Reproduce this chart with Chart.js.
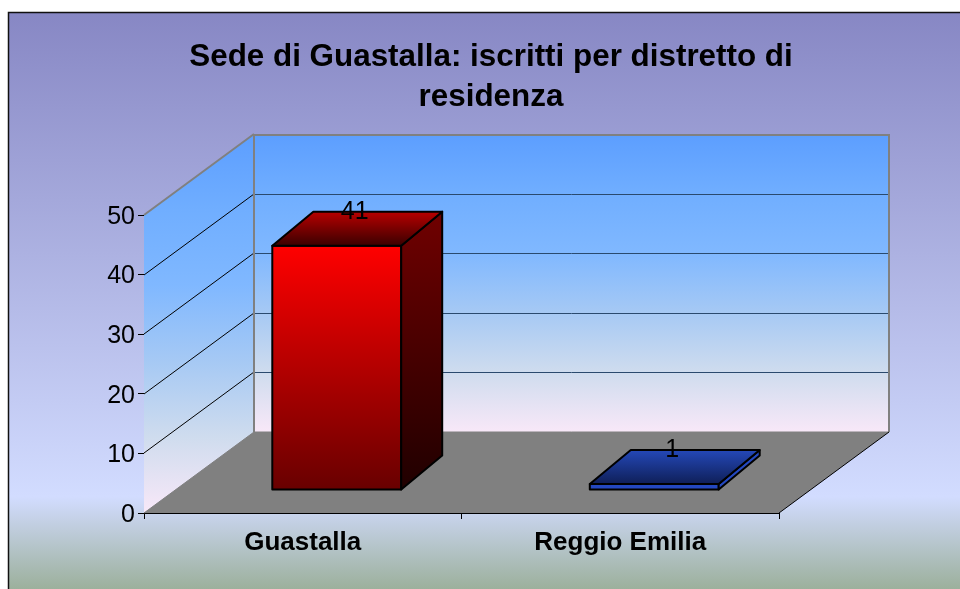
<!DOCTYPE html>
<html>
<head>
<meta charset="utf-8">
<style>
  html, body { margin: 0; padding: 0; width: 960px; height: 589px; overflow: hidden; background: #fff; }
  canvas { display: block; }
</style>
<script src="https://cdn.jsdelivr.net/npm/chart.js@4"></script>
</head>
<body>
<canvas id="chart" width="982" height="589"></canvas>
<script>
const titleLines = ['Sede di Guastalla: iscritti per distretto di', 'residenza'];
const categories = ['Guastalla', 'Reggio Emilia'];
const iscritti = [41, 1];
const yTicks = [0, 10, 20, 30, 40, 50];

// 3D look: wall depth and how far into the floor the bars stand
const wallDepth = {x: 110, y: -81};
const barShift = {x: 34, y: -23};
const barDepth = {x: 41, y: -34};
const frame = {x: 8, y: 12};

const barFaces = [
  {front: ['#ff0000', '#680000'], top: ['#b80000', '#3a0000'], side: ['#700000', '#200000']},
  {front: ['#2448c0', '#2448c0'], top: ['#2448b8', '#0f1f58'], side: ['#2448c0', '#2448c0']}
];

function vGrad(ctx, y0, y1, c0, c1) {
  const g = ctx.createLinearGradient(0, y0, 0, y1);
  g.addColorStop(0, c0);
  g.addColorStop(1, c1);
  return g;
}

function addWallStops(g) {
  g.addColorStop(0, '#5c9eff');
  g.addColorStop(0.2, '#70aeff');
  g.addColorStop(0.4, '#80b8ff');
  g.addColorStop(0.6, '#a6c9f4');
  g.addColorStop(0.8, '#cfdcee');
  g.addColorStop(1, '#f8e8f8');
  return g;
}

function poly(ctx, pts, fill, stroke, lw) {
  ctx.beginPath();
  pts.forEach((p, i) => i ? ctx.lineTo(p[0], p[1]) : ctx.moveTo(p[0], p[1]));
  ctx.closePath();
  if (fill) { ctx.fillStyle = fill; ctx.fill(); }
  if (stroke) { ctx.strokeStyle = stroke; ctx.lineWidth = lw; ctx.stroke(); }
}

function line(ctx, x0, y0, x1, y1, color, lw) {
  ctx.beginPath();
  ctx.moveTo(x0, y0);
  ctx.lineTo(x1, y1);
  ctx.strokeStyle = color;
  ctx.lineWidth = lw;
  ctx.stroke();
}

const scene3d = {
  id: 'scene3d',
  beforeDraw(chart) {
    const ctx = chart.ctx;
    const W = chart.width, H = chart.height;
    // page background with the black frame
    const bg = ctx.createLinearGradient(0, frame.y, 0, H);
    bg.addColorStop(0, '#8787c4');
    bg.addColorStop(0.84, '#d2dcff');
    bg.addColorStop(1, '#9cb09c');
    ctx.save();
    ctx.fillStyle = bg;
    ctx.fillRect(frame.x, frame.y, W - frame.x, H - frame.y);
    ctx.strokeStyle = '#111';
    ctx.lineWidth = 1.5;
    ctx.strokeRect(frame.x + 0.5, frame.y + 0.5, W, H);
    ctx.restore();
  },
  beforeDatasetsDraw(chart) {
    const ctx = chart.ctx;
    const a = chart.chartArea;
    const y = chart.scales.y;
    const dx = wallDepth.x, dy = wallDepth.y;
    ctx.save();
    // back wall
    ctx.fillStyle = addWallStops(ctx.createLinearGradient(0, a.top + dy, 0, a.bottom + dy));
    ctx.fillRect(a.left + dx, a.top + dy, a.right - a.left, a.bottom - a.top);
    // side wall
    const side = addWallStops(ctx.createLinearGradient(0, a.top + dy, 0, a.bottom));
    poly(ctx, [[a.left, a.top], [a.left + dx, a.top + dy], [a.left + dx, a.bottom + dy], [a.left, a.bottom]], side);
    // floor
    poly(ctx, [[a.left, a.bottom], [a.left + dx, a.bottom + dy], [a.right + dx, a.bottom + dy], [a.right, a.bottom]], '#808080');
    // grid lines
    yTicks.forEach(t => {
      if (t === 0 || t === 50) return;
      const py = Math.round(y.getPixelForValue(t));
      line(ctx, a.left, py, a.left + dx, py + dy, '#000', 1);
      line(ctx, a.left + dx, py + dy + 0.5, a.right + dx, py + dy + 0.5, '#2a4a6e', 1);
    });
    // wall outline
    ctx.lineJoin = 'round';
    line(ctx, a.left, a.top, a.left + dx, a.top + dy, '#808080', 2);
    line(ctx, a.left + dx, a.top + dy + 1, a.right + dx, a.top + dy + 1, '#808080', 2);
    line(ctx, a.left + dx, a.top + dy, a.left + dx, a.bottom + dy, '#808080', 2);
    line(ctx, a.right + dx, a.top + dy, a.right + dx, a.bottom + dy, '#808080', 2);
    line(ctx, a.left + dx, a.bottom + dy, a.right + dx, a.bottom + dy, '#808080', 1);
    line(ctx, a.left, a.bottom, a.left + dx, a.bottom + dy, '#808080', 1);
    line(ctx, a.right, a.bottom, a.right + dx, a.bottom + dy, '#000', 1);
    ctx.restore();
  },
  afterDatasetsDraw(chart) {
    const ctx = chart.ctx;
    const meta = chart.getDatasetMeta(0);
    ctx.save();
    meta.data.forEach((bar, i) => {
      const half = bar.width / 2;
      const x0 = bar.x - half + barShift.x, x1 = bar.x + half + barShift.x;
      const top = bar.y + barShift.y, base = bar.base + barShift.y;
      const bx = barDepth.x, by = barDepth.y;
      const f = barFaces[i];
      ctx.lineJoin = 'round';
      poly(ctx, [[x0, top], [x1, top], [x1, base], [x0, base]], vGrad(ctx, top, base, f.front[0], f.front[1]), '#000', 2);
      poly(ctx, [[x1, top], [x1 + bx, top + by], [x1 + bx, base + by], [x1, base]], vGrad(ctx, top + by, base, f.side[0], f.side[1]), '#000', 2);
      poly(ctx, [[x0, top], [x0 + bx, top + by], [x1 + bx, top + by], [x1, top]], vGrad(ctx, top + by, top, f.top[0], f.top[1]), '#000', 2);
      // value label
      ctx.fillStyle = '#000';
      ctx.font = '25px "Liberation Sans"';
      ctx.textAlign = 'center';
      ctx.textBaseline = 'middle';
      ctx.fillText(String(iscritti[i]), bar.x + barShift.x + 18, top - 34);
    });
    ctx.restore();
  }
};

new Chart(document.getElementById('chart'), {
  type: 'bar',
  data: {
    labels: categories,
    datasets: [{
      data: iscritti,
      backgroundColor: 'transparent',
      borderWidth: 0,
      categoryPercentage: 1,
      barPercentage: 0.406
    }]
  },
  options: {
    responsive: false,
    animation: false,
    layout: {padding: 0},
    plugins: {
      legend: {display: false},
      tooltip: {enabled: false},
      title: {
        display: true,
        text: titleLines,
        color: '#000',
        font: {family: '"Liberation Sans"', size: 31.4, weight: 'bold', lineHeight: 1.274},
        padding: {top: 37, bottom: 98}
      }
    },
    scales: {
      x: {
        offset: true,
        border: {color: '#000', width: 1},
        grid: {display: true, drawOnChartArea: false, drawTicks: true, tickLength: 6, color: '#000', offset: true},
        ticks: {color: '#000', font: {family: '"Liberation Sans"', size: 26, weight: 'bold'}, padding: 8, maxRotation: 0},
        afterFit(s) { s.height = 76; }
      },
      y: {
        min: 0,
        max: 50,
        border: {color: '#000', width: 1},
        grid: {display: true, drawOnChartArea: false, drawTicks: true, tickLength: 6, color: '#000'},
        ticks: {color: '#000', font: {family: '"Liberation Sans"', size: 25}, stepSize: 10, padding: 3, labelOffset: 2},
        afterFit(s) { s.width = 144; }
      },
      // empty axis, only keeps the plot width so the title stays centred on the full frame
      spacer: {
        position: 'right',
        display: true,
        border: {display: false},
        grid: {display: false},
        ticks: {display: false},
        afterFit(s) { s.width = 203; }
      }
    }
  },
  plugins: [scene3d]
});
</script>
</body>
</html>
